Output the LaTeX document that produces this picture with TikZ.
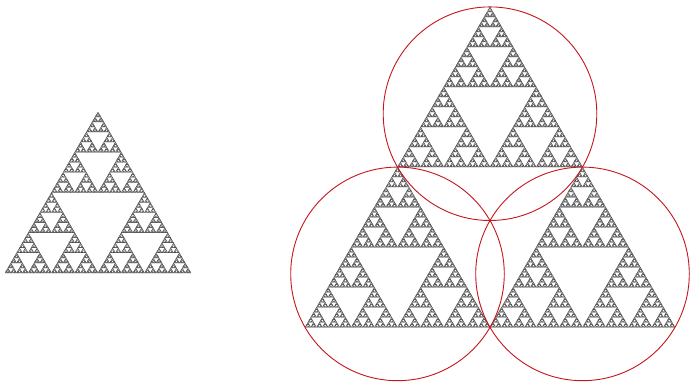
\documentclass[tikz,border=0pt]{standalone}
\usetikzlibrary{calc}

\definecolor{ringred}{RGB}{196,22,28}

% one Sierpinski triangle of side 1, recursion depth #1
\newcommand\sierp[1]{%
  \ifnum\numexpr#1\relax=0
    \draw[tri] (0,0) -- (1,0) -- (60:1) -- cycle;
  \else
    \begin{scope}[scale=0.5]\sierp{#1-1}\end{scope}
    \begin{scope}[shift={(0.5,0)},scale=0.5]\sierp{#1-1}\end{scope}
    \begin{scope}[shift={(60:0.5)},scale=0.5]\sierp{#1-1}\end{scope}
  \fi}

\begin{document}
\begin{tikzpicture}[
  x=1pt, y=1pt,
  tri/.style={draw=black!75, line width=0.25pt, line join=miter},
  ring/.style={draw=ringred, line width=0.9pt}
]
  \useasboundingbox (0,0) rectangle (691,384);
  % left: one triangle
  \begin{scope}[shift={(5,111)}, scale=186]
    \sierp{7}
  \end{scope}
  % right: three copies of it
  \begin{scope}[shift={(305,56.7)}, scale=370]
    \sierp{8}
  \end{scope}
  \coordinate (cl) at (397.5,110.1);
  \coordinate (cr) at (582.5,110.1);
  \coordinate (ct) at (490,270.3);
  \draw[ring] (cl) circle (106.8);
  \draw[ring] (cr) circle (106.8);
  \draw[ring] (ct) circle (106.8);
\end{tikzpicture}
\end{document}
